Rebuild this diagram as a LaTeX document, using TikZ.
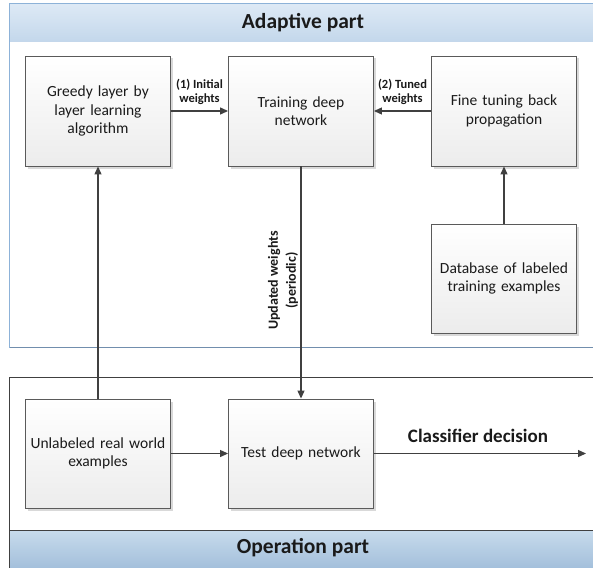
\documentclass[tikz,border=0pt]{standalone}
\usepackage{fontspec}
\setmainfont{Carlito}
\usetikzlibrary{arrows.meta}
\definecolor{txt}{HTML}{1A1A1A}
\definecolor{edge}{HTML}{404040}
\definecolor{boxline}{HTML}{5A5A5A}
\definecolor{boxbot}{HTML}{ECECEC}
\definecolor{hAtop}{HTML}{DDE9F5}
\definecolor{hAbot}{HTML}{C3D7EB}
\definecolor{hBtop}{HTML}{C8DBEC}
\definecolor{hBbot}{HTML}{9CBAD8}
\definecolor{bluel}{HTML}{8DB2D8}
\begin{document}
\begin{tikzpicture}[x=1pt,y=-1pt,
  stepbox/.style={draw=boxline, line width=0.9pt, top color=white, bottom color=boxbot,
    minimum width=145pt, minimum height=110pt, text width=140pt, align=center,
    text=txt, font=\fontsize{15.5}{18.5}\selectfont, inner sep=0pt},
  conn/.style={draw=edge, line width=1.2pt, -{Triangle[length=8pt,width=7pt]}},
  lbl/.style={font=\bfseries\fontsize{12.5}{14.5}\selectfont, text=txt, align=center, inner sep=0pt},
  head/.style={font=\bfseries\fontsize{21.5}{24}\selectfont, text=txt, inner sep=0pt}]
\useasboundingbox (0,0) rectangle (593,567);
\clip (0,0) rectangle (593,567);
\fill[white] (0,0) rectangle (593,567);
% Adaptive container
\draw[bluel, line width=1pt] (9.5,4) rectangle (605,347.5);
\shade[top color=hAtop, bottom color=hAbot] (10,4.5) rectangle (605,42);
\draw[bluel, line width=1pt] (9.5,4) -- (605,4);
\draw[bluel!80!black, line width=1.2pt] (9.5,347.5) -- (605,347.5);
\node[head] (adhead) at (303,23) {Adaptive part};
% Operation container
\shade[top color=hBtop, bottom color=hBbot] (9.5,530) rectangle (605,575);
\draw[edge, line width=1pt] (605,377.5) -- (9.5,377.5) -- (9.5,575);
\draw[edge, line width=1pt] (9.5,530) -- (605,530);
\node[head] (ophead) at (303,548) {Operation part};
% shadows
\foreach \cx/\cy/\h in {98/111/110, 301/111/110, 504/111/110, 504/278.5/109, 98/453.5/109, 301/453.5/109}{
  \fill[black!15] (\cx-72.5+2.5,\cy-\h/2+2.5) rectangle (\cx+72.5+2.5,\cy+\h/2+2.5);
}
% boxes
\node[stepbox] (greedy) at (98,111) {Greedy layer by\\layer learning\\algorithm};
\node[stepbox] (train) at (301,111) {Training deep\\network};
\node[stepbox] (fine) at (504,111) {Fine tuning back\\propagation};
\node[stepbox, minimum height=109pt] (db) at (504,278.5) {Database of labeled\\training examples};
\node[stepbox, minimum height=109pt] (unl) at (98,453.5) {Unlabeled real world\\examples};
\node[stepbox, minimum height=109pt] (test) at (301,453.5) {Test deep network};
\coordinate (out) at (586,453.5);
% connectors
\draw[conn] (greedy.east) -- (train.west);
\draw[conn] (fine.west) -- (train.east);
\draw[conn] (db.north) -- (fine.south);
\draw[conn] (unl.north) -- (greedy.south);
\draw[conn] (train.south) -- (test.north);
\draw[conn] (unl.east) -- (test.west);
\draw[conn] (test.east) -- (out);
% labels
\node[lbl] (l1) at (199.5,92) {(1) Initial\\weights};
\node[lbl] (l2) at (402.5,92) {(2) Tuned\\weights};
\node[lbl, rotate=90, font=\bfseries\fontsize{14}{18}\selectfont] (l3) at (283,280.5) {Updated weights\\(periodic)};
\node[font=\bfseries\fontsize{19}{22}\selectfont, text=txt, inner sep=0pt] (cd) at (478,435.5) {Classifier decision};
\end{tikzpicture}
\end{document}
